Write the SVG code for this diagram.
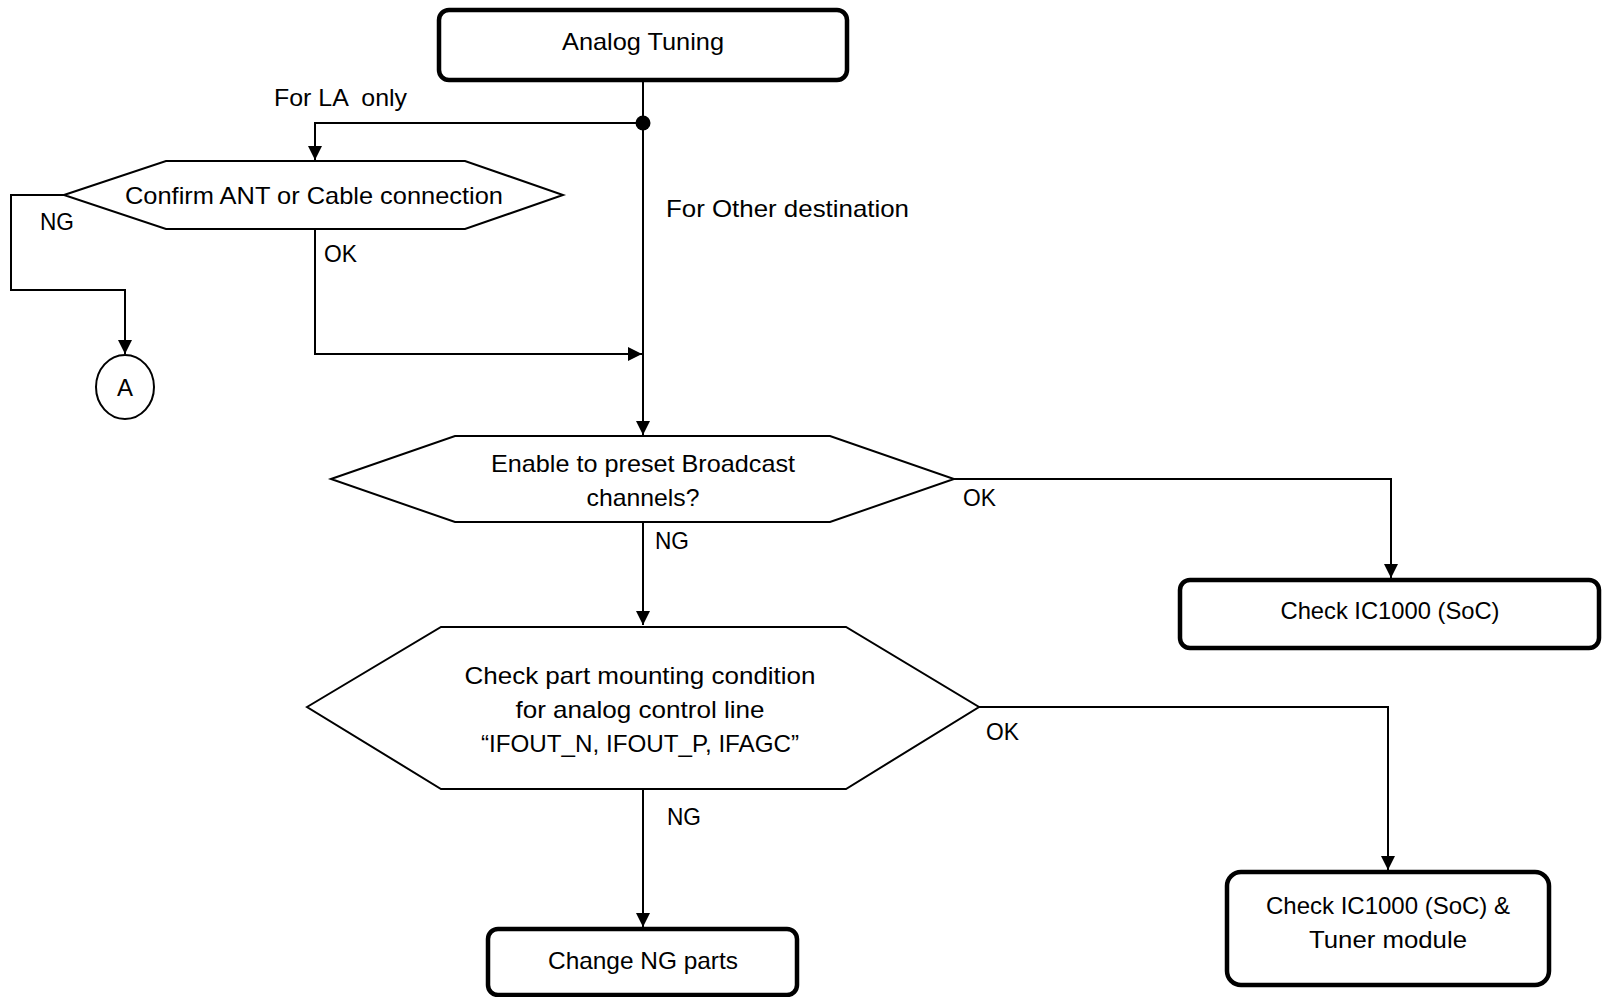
<svg xmlns="http://www.w3.org/2000/svg" width="1602" height="997" viewBox="0 0 1602 997">
<style>
.box{fill:#fff;stroke:#000;stroke-width:4.5}
.hex{fill:#fff;stroke:#000;stroke-width:2}
.ln{fill:none;stroke:#000;stroke-width:2;marker-end:url(#arr)}
.ln0{fill:none;stroke:#000;stroke-width:2}
text{font-family:"Liberation Sans",Arial,sans-serif;font-size:24px;fill:#000}
.c{text-anchor:middle}
</style>
<defs>
<marker id="arr" viewBox="0 0 14 14" refX="14" refY="7" markerWidth="14" markerHeight="14" markerUnits="userSpaceOnUse" orient="auto">
<path d="M0,0 L14,7 L0,14 Z" fill="#000"/>
</marker>
</defs>
<g id="connectors">
<path class="ln0" d="M643,80 V436"/>
<path class="ln" d="M643,123 H315 V160"/>
<circle cx="643" cy="123" r="7.5" fill="#000"/>
<path class="ln" d="M64,195 H11 V290 H125 V354"/>
<path class="ln" d="M315,229 V354 H642"/>
<path class="ln" d="M643,340 V435"/>
<path class="ln" d="M954,479 H1391 V578"/>
<path class="ln" d="M643,522 V625"/>
<path class="ln" d="M979,707 H1388 V870"/>
<path class="ln" d="M643,789 V927"/>
<text x="274" y="106" xml:space="preserve" textLength="133" lengthAdjust="spacingAndGlyphs">For LA  only</text>
<text x="666" y="217" textLength="243" lengthAdjust="spacingAndGlyphs">For Other destination</text>
<text x="40" y="230" textLength="34" lengthAdjust="spacingAndGlyphs">NG</text>
<text x="324" y="262" textLength="33" lengthAdjust="spacingAndGlyphs">OK</text>
<text x="963" y="506" textLength="33" lengthAdjust="spacingAndGlyphs">OK</text>
<text x="655" y="549" textLength="34" lengthAdjust="spacingAndGlyphs">NG</text>
<text x="986" y="740" textLength="33" lengthAdjust="spacingAndGlyphs">OK</text>
<text x="667" y="825" textLength="34" lengthAdjust="spacingAndGlyphs">NG</text>
</g>
<g id="n-analog">
<rect class="box" x="439" y="10" width="408" height="70" rx="10"/>
<text class="c" x="643" y="50" textLength="162" lengthAdjust="spacingAndGlyphs">Analog Tuning</text>
</g>
<g id="n-confirm">
<polygon class="hex" points="64,195 166,161 465,161 563,195 465,229 166,229"/>
<text class="c" x="314" y="204" textLength="378" lengthAdjust="spacingAndGlyphs">Confirm ANT or Cable connection</text>
</g>
<g id="n-a">
<ellipse cx="125" cy="387" rx="29" ry="32" fill="#fff" stroke="#000" stroke-width="2"/>
<text class="c" x="125" y="396">A</text>
</g>
<g id="n-enable">
<polygon class="hex" points="331,479 455,436 830,436 954,479 830,522 455,522"/>
<text class="c" x="643" y="472" textLength="304" lengthAdjust="spacingAndGlyphs">Enable to preset Broadcast</text>
<text class="c" x="643" y="506" textLength="113" lengthAdjust="spacingAndGlyphs">channels?</text>
</g>
<g id="n-soc">
<rect class="box" x="1180" y="580" width="419" height="68" rx="10"/>
<text class="c" x="1390" y="619" textLength="219" lengthAdjust="spacingAndGlyphs">Check IC1000 (SoC)</text>
</g>
<g id="n-check">
<polygon class="hex" points="307,707 441,627 846,627 979,707 846,789 441,789"/>
<text class="c" x="640" y="684" textLength="351" lengthAdjust="spacingAndGlyphs">Check part mounting condition</text>
<text class="c" x="640" y="718" textLength="249" lengthAdjust="spacingAndGlyphs">for analog control line</text>
<text class="c" x="640" y="752" textLength="318" lengthAdjust="spacingAndGlyphs">“IFOUT_N, IFOUT_P, IFAGC”</text>
</g>
<g id="n-tuner">
<rect class="box" x="1227" y="872" width="322" height="113" rx="14"/>
<text class="c" x="1388" y="914" textLength="244" lengthAdjust="spacingAndGlyphs">Check IC1000 (SoC) &amp;</text>
<text class="c" x="1388" y="948" textLength="158" lengthAdjust="spacingAndGlyphs">Tuner module</text>
</g>
<g id="n-change">
<rect class="box" x="488" y="929" width="309" height="66" rx="10"/>
<text class="c" x="643" y="969" textLength="190" lengthAdjust="spacingAndGlyphs">Change NG parts</text>
</g>
</svg>
